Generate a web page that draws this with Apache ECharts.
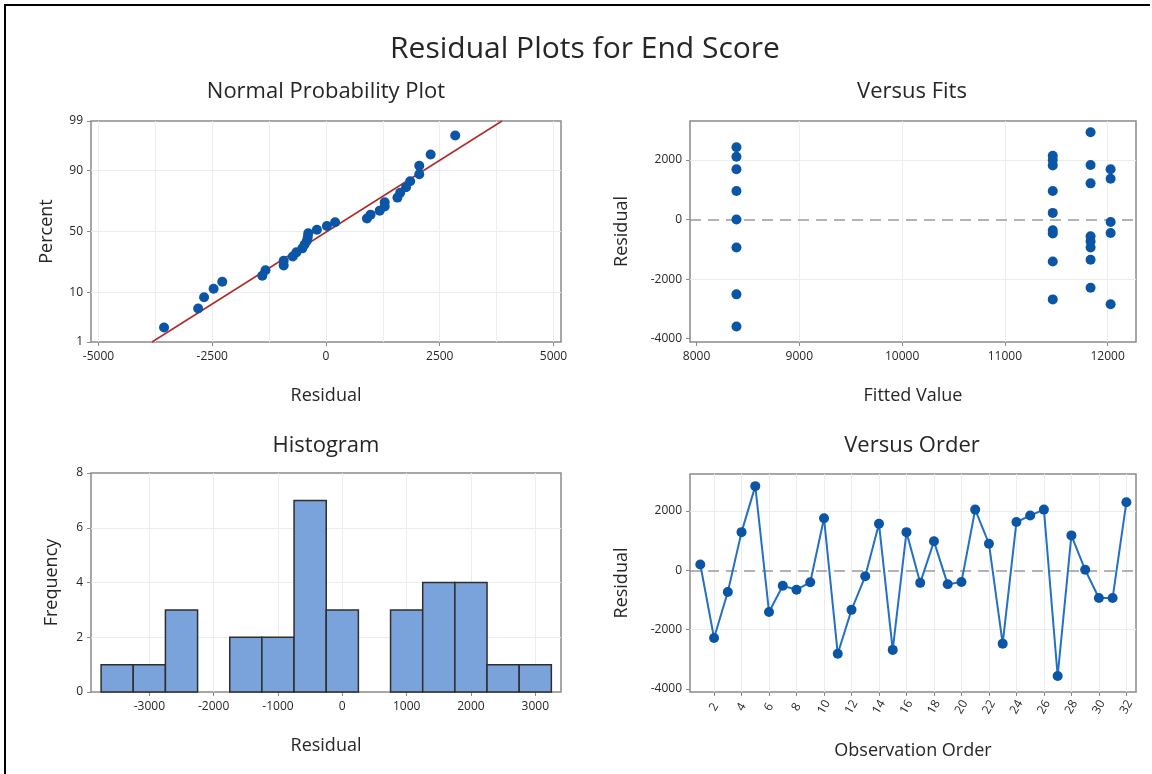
<!DOCTYPE html>
<html>
<head>
<meta charset="utf-8">
<style>
  html, body { margin: 0; padding: 0; background: #fff; }
  #chart { width: 1152px; height: 774px; }
</style>
<script src="https://cdn.jsdelivr.net/npm/echarts@6/dist/echarts.min.js"></script>
</head>
<body>
<div id="chart"></div>
<script>
// residuals in observation order
var orderResiduals = [200, -2280, -730, 1290, 2840, -1400, -520, -650, -400, 1760,
  -2810, -1330, -200, 1570, -2680, 1290, -420, 980, -470, -390,
  2050, 900, -2470, 1630, 1850, 2050, -3560, 1180, 20, -930, -930, 2300];
var orderTicks = [2, 4, 6, 8, 10, 12, 14, 16, 18, 20, 22, 24, 26, 28, 30, 32];

// normal probability plot: plotted percent of each sorted residual
var nppPercent = [2.16, 5.25, 8.33, 11.42, 14.51, 17.59, 20.68, 23.77, 26.85, 29.94,
  33.02, 36.11, 39.2, 42.28, 45.37, 48.46, 51.54, 54.63, 57.72, 60.8,
  63.89, 66.98, 70.06, 73.15, 76.23, 79.32, 82.41, 85.49, 88.58, 91.67, 94.75, 97.84];
var nppTickPercents = [1, 10, 50, 90, 99];
var nppLine = [[-3824, 1], [3868, 99]];
var nppResidualTicks = [-5000, -2500, 0, 2500, 5000];

// versus fits
var fitsFitted = [8388, 8388, 8388, 8388, 8388, 8388, 8388, 8388,
  11466, 11466, 11466, 11466, 11466, 11466, 11466, 11466, 11466,
  11834, 11834, 11834, 11834, 11834, 11834, 11834, 11834,
  12029, 12029, 12029, 12029, 12029];
var fitsResidual = [2430, 2110, 1690, 960, 0, -940, -2510, -3590,
  2140, 2000, 1820, 960, 225, -360, -470, -1410, -2680,
  2930, 1835, 1216, -563, -732, -935, -1351, -2286,
  1690, 1374, -80, -450, -2840];
var fitTicks = [8000, 9000, 10000, 11000, 12000];
var residualTicks = [-4000, -2000, 0, 2000];

// histogram
var histCenters = [-3500, -3000, -2500, -2000, -1500, -1000, -500, 0, 500, 1000, 1500, 2000, 2500, 3000];
var histCounts = [1, 1, 3, 0, 2, 2, 7, 3, 0, 3, 4, 4, 1, 1];
var histBinWidth = 500;
var histTicks = [-3000, -2000, -1000, 0, 1000, 2000, 3000];

var font = '"Open Sans", "Noto Sans", sans-serif';
var ink = '#262626';
var frame = '#8a8a8a';
var gridColor = '#ececec';
var dotColor = '#0a55a6';

function probit(pct) {
  var p = pct / 100;
  var q = p < 0.5 ? p : 1 - p;
  var t = Math.sqrt(-2 * Math.log(q));
  var z = t - (2.515517 + 0.802853 * t + 0.010328 * t * t) /
    (1 + 1.432788 * t + 0.189269 * t * t + 0.001308 * t * t * t);
  return p < 0.5 ? -z : z;
}

var nppTickZ = nppTickPercents.map(probit);

function marks(xs, ys, extra) {
  var data = [];
  xs.forEach(function(v) { data.push({ xAxis: v }); });
  ys.forEach(function(v) { data.push({ yAxis: v }); });
  (extra || []).forEach(function(d) { data.push(d); });
  return {
    silent: true,
    symbol: ['none', 'none'],
    label: { show: false },
    emphasis: { disabled: true },
    lineStyle: { color: gridColor, width: 1, type: 'solid' },
    data: data,
    animation: false
  };
}

var zeroLine = { yAxis: 0, lineStyle: { color: '#9a9a9a', width: 1.5, type: [11, 7] } };

function axisBase(name, gap, extra) {
  var a = {
    type: 'value',
    name: name,
    nameLocation: 'middle',
    nameGap: gap,
    nameTextStyle: { fontSize: 18, color: ink, fontFamily: font },
    axisLine: { show: false, onZero: false },
    axisTick: { show: true, inside: false, length: 4, lineStyle: { color: frame } },
    axisLabel: { fontSize: 12, color: ink, fontFamily: font, margin: 8,
      formatter: function(v) { return String(Math.round(v)); } },
    splitLine: { show: false }
  };
  for (var k in extra) {
    if (typeof extra[k] === 'object' && !Array.isArray(extra[k]) && a[k]) {
      for (var j in extra[k]) a[k][j] = extra[k][j];
    } else {
      a[k] = extra[k];
    }
  }
  return a;
}

var sorted = orderResiduals.slice().sort(function(a, b) { return a - b; });
var nppData = sorted.map(function(r, i) { return [r, probit(nppPercent[i])]; });
var nppLineData = nppLine.map(function(p) { return [p[0], probit(p[1])]; });
var fitsData = fitsFitted.map(function(f, i) { return [f, fitsResidual[i]]; });
var orderData = orderResiduals.map(function(r, i) { return [i + 1, r]; });
var histData = histCenters.map(function(c, i) { return [c, histCounts[i]]; });

var chart = echarts.init(document.getElementById('chart'), null, { renderer: 'canvas' });

function heading(text, x, y, size) {
  return { type: 'text', x: x, y: y, style: { text: text, font: size + 'px ' + font, fill: ink,
    textAlign: 'center', textVerticalAlign: 'middle' } };
}

chart.setOption({
  animation: false,
  backgroundColor: '#ffffff',
  textStyle: { fontFamily: font },
  graphic: [
    { type: 'line', shape: { x1: 4, y1: 5, x2: 1150, y2: 5 }, style: { stroke: '#000', lineWidth: 2 } },
    { type: 'line', shape: { x1: 5, y1: 4, x2: 5, y2: 774 }, style: { stroke: '#000', lineWidth: 2 } },
    heading('Residual Plots for End Score', 585, 49, 30),
    heading('Normal Probability Plot', 326, 92, 22),
    heading('Versus Fits', 912, 92, 22),
    heading('Histogram', 326, 446, 22),
    heading('Versus Order', 912, 446, 22)
  ],
  grid: [
    { left: 91, top: 121, width: 470, height: 221, show: true, borderColor: frame, borderWidth: 1.5, backgroundColor: '#fff' },
    { left: 690, top: 121, width: 446, height: 221, show: true, borderColor: frame, borderWidth: 1.5, backgroundColor: '#fff' },
    { left: 91, top: 473, width: 470, height: 219, show: true, borderColor: frame, borderWidth: 1.5, backgroundColor: '#fff' },
    { left: 690, top: 474, width: 446, height: 218, show: true, borderColor: frame, borderWidth: 1.5, backgroundColor: '#fff' }
  ],
  xAxis: [
    axisBase('Residual', 45, { gridIndex: 0, min: -5165, max: 5165,
      axisTick: { customValues: nppResidualTicks }, axisLabel: { customValues: nppResidualTicks, margin: 9 } }),
    axisBase('Fitted Value', 45, { gridIndex: 1, min: 7936, max: 12276,
      axisTick: { customValues: fitTicks }, axisLabel: { customValues: fitTicks, margin: 9 } }),
    axisBase('Residual', 45, { gridIndex: 2, min: -3907, max: 3400,
      axisTick: { customValues: histTicks }, axisLabel: { customValues: histTicks, margin: 9 } }),
    axisBase('Observation Order', 50, { gridIndex: 3, min: 0.25, max: 32.7,
      axisTick: { customValues: orderTicks },
      axisLabel: { customValues: orderTicks, rotate: 60, align: 'center', verticalAlign: 'middle', margin: 15 } })
  ],
  yAxis: [
    axisBase('Percent', 35, { gridIndex: 0, min: nppTickZ[0], max: nppTickZ[nppTickZ.length - 1],
      axisTick: { customValues: nppTickZ },
      axisLabel: { customValues: nppTickZ, formatter: function(v) {
        var best = 0;
        nppTickZ.forEach(function(z, i) { if (Math.abs(z - v) < Math.abs(nppTickZ[best] - v)) best = i; });
        return String(nppTickPercents[best]);
      } } }),
    axisBase('Residual', 59, { gridIndex: 1, min: -4110, max: 3310,
      axisTick: { customValues: residualTicks }, axisLabel: { customValues: residualTicks } }),
    axisBase('Frequency', 30, { gridIndex: 2, min: 0, max: 8, interval: 2 }),
    axisBase('Residual', 59, { gridIndex: 3, min: -4100, max: 3250,
      axisTick: { customValues: residualTicks }, axisLabel: { customValues: residualTicks } })
  ],
  series: [
    {
      type: 'line', xAxisIndex: 0, yAxisIndex: 0, data: nppLineData, symbol: 'none', z: 6,
      lineStyle: { color: '#b02a2a', width: 1.5 }, silent: true,
      markLine: marks([-5000, -3750, -2500, -1250, 0, 1250, 2500, 3750, 5000], [probit(10), probit(50), probit(90)])
    },
    {
      type: 'scatter', xAxisIndex: 0, yAxisIndex: 0, data: nppData, symbolSize: 10, z: 10,
      itemStyle: { color: dotColor, opacity: 1 }
    },
    {
      type: 'scatter', xAxisIndex: 1, yAxisIndex: 1, data: fitsData, symbolSize: 10, z: 10,
      itemStyle: { color: dotColor, opacity: 1 },
      markLine: marks([9000, 10000, 11000, 12000], [-2000, 2000], [zeroLine])
    },
    {
      type: 'custom', xAxisIndex: 2, yAxisIndex: 2, data: histData, z: 10,
      renderItem: function(params, api) {
        var c = api.value(0);
        var n = api.value(1);
        if (!n) return null;
        var p0 = api.coord([c - histBinWidth / 2, n]);
        var p1 = api.coord([c + histBinWidth / 2, 0]);
        return {
          type: 'rect',
          shape: { x: p0[0], y: p0[1], width: p1[0] - p0[0], height: p1[1] - p0[1] },
          style: { fill: '#7ba3db', stroke: '#2e2e2e', lineWidth: 1.5 }
        };
      },
      markLine: marks(histTicks, [2, 4, 6])
    },
    {
      type: 'line', xAxisIndex: 3, yAxisIndex: 3, data: orderData, z: 10,
      symbol: 'circle', symbolSize: 10,
      itemStyle: { color: dotColor },
      lineStyle: { color: '#2470c4', width: 2 },
      markLine: marks(orderTicks, [-2000, 2000], [zeroLine])
    }
  ]
});
</script>
</body>
</html>
